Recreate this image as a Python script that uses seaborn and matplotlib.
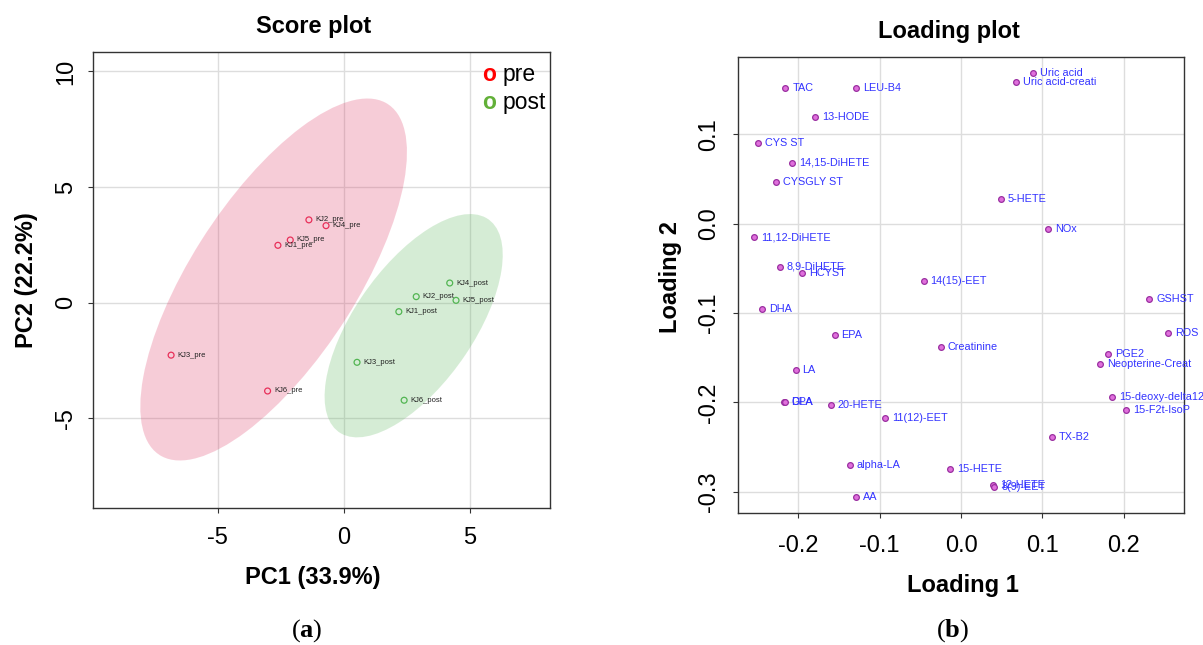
import numpy as np
import pandas as pd
import matplotlib
matplotlib.use("Agg")
import matplotlib.pyplot as plt
import seaborn as sns
from matplotlib.patches import Ellipse
from matplotlib.ticker import FormatStrFormatter

# ---------------- data ----------------
samples = ["KJ1_pre", "KJ2_pre", "KJ3_pre", "KJ4_pre", "KJ5_pre", "KJ6_pre",
           "KJ1_post", "KJ2_post", "KJ3_post", "KJ4_post", "KJ5_post", "KJ6_post"]
pc1 = [-2.61, -1.38, -6.85, -0.70, -2.12, -3.02,
       2.19, 2.88, 0.53, 4.21, 4.46, 2.40]
pc2 = [2.48, 3.58, -2.27, 3.33, 2.71, -3.82,
       -0.39, 0.26, -2.58, 0.85, 0.10, -4.22]
group = ["pre", "pre", "pre", "pre", "pre", "pre",
         "post", "post", "post", "post", "post", "post"]

load_names = ["TAC", "LEU-B4", "Uric acid", "Uric acid-creati", "13-HODE", "CYS ST",
              "14,15-DiHETE", "CYSGLY ST", "5-HETE", "NOx", "11,12-DiHETE", "8,9-DiHETE",
              "HCYST", "14(15)-EET", "GSHST", "DHA", "ROS", "EPA", "Creatinine", "PGE2",
              "Neopterine-Creat", "LA", "15-deoxy-delta12", "DPA", "GLA", "20-HETE",
              "15-F2t-IsoP", "11(12)-EET", "TX-B2", "alpha-LA", "15-HETE", "12-HETE",
              "8(9)-EET", "AA"]
load1 = [-0.216, -0.129, 0.0886, 0.068, -0.179, -0.249,
         -0.208, -0.2276, 0.0492, 0.1074, -0.254, -0.2226,
         -0.195, -0.0459, 0.2316, -0.2444, 0.2542, -0.1554, -0.0246, 0.1808,
         0.171, -0.2034, 0.1853, -0.218, -0.217, -0.160,
         0.2026, -0.0931, 0.1119, -0.1369, -0.0139, 0.039,
         0.041, -0.129]
load2 = [0.1523, 0.1516, 0.1688, 0.1583, 0.1198, 0.0904,
         0.0683, 0.047, 0.028, -0.0059, -0.0153, -0.0481,
         -0.0549, -0.0645, -0.0843, -0.0959, -0.1224, -0.1243, -0.1377, -0.1463,
         -0.1568, -0.1635, -0.194, -0.200, -0.200, -0.2027,
         -0.2086, -0.2176, -0.2392, -0.2702, -0.2743, -0.2926,
         -0.2948, -0.3053]

score_df = pd.DataFrame({"sample": samples, "PC1": pc1, "PC2": pc2, "group": group})
load_df = pd.DataFrame({"name": load_names, "L1": load1, "L2": load2})

# ---------------- style ----------------
sns.set_theme(style="white")
plt.rcParams["font.family"] = ["Liberation Sans", "DejaVu Sans"]
plt.rcParams["axes.unicode_minus"] = False
plt.rcParams["text.color"] = "black"
plt.rcParams["axes.labelcolor"] = "black"
plt.rcParams["mathtext.fontset"] = "custom"
plt.rcParams["mathtext.bf"] = "Liberation Serif:bold"
plt.rcParams["mathtext.rm"] = "Liberation Serif"

W, H = 1203, 645
fig = plt.figure(figsize=(W / 100, H / 100), dpi=100)


def px_axes(l, t, r, b):
    return fig.add_axes([l / W, 1 - b / H, (r - l) / W, (b - t) / H])


ax1 = px_axes(93, 52, 550, 508)
ax2 = px_axes(738.3, 56.7, 1184, 513.3)

spine_col = "#333333"
grid_col = "#DDDDDD"
TICK_FS = 17
LAB_FS = 17


def style_axes(ax, xpad, ypad):
    for s in ax.spines.values():
        s.set_visible(True)
        s.set_color(spine_col)
        s.set_linewidth(1.0)
    ax.grid(True, color=grid_col, linewidth=1.0, zorder=0)
    ax.set_axisbelow(True)
    ax.tick_params(axis="both", which="both", bottom=True, left=True, top=False, right=False,
                   direction="out", length=3.6, width=0.8, colors=spine_col,
                   labelcolor="black", labelsize=TICK_FS)
    ax.tick_params(axis="x", pad=xpad)
    ax.tick_params(axis="y", pad=ypad, labelrotation=90)
    for lab in ax.get_yticklabels():
        lab.set_va("center")


def conf_ellipse(ax, x, y, color, alpha):
    x = np.asarray(x)
    y = np.asarray(y)
    cov = np.cov(x, y)
    vals, vecs = np.linalg.eigh(cov)
    order = vals.argsort()[::-1]
    vals, vecs = vals[order], vecs[:, order]
    angle = np.degrees(np.arctan2(vecs[1, 0], vecs[0, 0]))
    w, h = 2 * np.sqrt(5.991 * vals)
    e = Ellipse((x.mean(), y.mean()), w, h, angle=angle, facecolor=color,
                alpha=alpha, edgecolor="none", zorder=1)
    ax.add_patch(e)


# ---------------- score plot ----------------
ell_cols = {"pre": "#DF3763", "post": "#5BB75B"}
pt_cols = {"pre": "#E8305A", "post": "#52B552"}
for g in ["pre", "post"]:
    sub = score_df[score_df.group == g]
    conf_ellipse(ax1, sub.PC1, sub.PC2, ell_cols[g], 0.25)

sns.scatterplot(data=score_df, x="PC1", y="PC2", hue="group", palette=pt_cols,
                s=18, linewidth=0.9, legend=False, ax=ax1, zorder=3)
coll = ax1.collections[-1]
fc = coll.get_facecolors()
coll.set_edgecolors(fc)
coll.set_facecolors("none")

for _, r in score_df.iterrows():
    ax1.annotate(r["sample"], (r.PC1, r.PC2), xytext=(4.6, 0), textcoords="offset points",
                 va="center", ha="left", fontsize=5.5, color="#222222", zorder=4)

ax1.set_xlim(-9.95, 8.19)
ax1.set_ylim(-8.88, 10.84)
ax1.set_xticks([-5, 0, 5])
ax1.set_yticks([-5, 0, 5, 10])
ax1.xaxis.set_major_formatter(FormatStrFormatter("%d"))
ax1.yaxis.set_major_formatter(FormatStrFormatter("%d"))
style_axes(ax1, xpad=10, ypad=8)

ax1.set_xlabel("PC1 (33.9%)", fontsize=LAB_FS, fontweight="bold", color="black")
ax1.xaxis.label.set_va("baseline")
ax1.xaxis.set_label_coords((313 - 93) / 457, (508 - 584.4) / 456)
ax1.set_ylabel("PC2 (22.2%)", fontsize=LAB_FS, fontweight="bold", color="black")
ax1.yaxis.label.set_va("center")
ax1.yaxis.set_label_coords((26 - 93) / 457, 0.5)

fig.text(314 / W, 1 - 33 / H, "Score plot", fontsize=LAB_FS, fontweight="bold",
         ha="center", va="baseline", color="black")

# legend
fig.text(482 / W, 1 - 81 / H, "o", color="#FF0000", fontsize=16.5, fontweight="bold",
         ha="left", va="baseline")
fig.text(503 / W, 1 - 81 / H, "pre", color="black", fontsize=16.5, ha="left", va="baseline")
fig.text(482 / W, 1 - 109 / H, "o", color="#62B038", fontsize=16.5, fontweight="bold",
         ha="left", va="baseline")
fig.text(503 / W, 1 - 109 / H, "post", color="black", fontsize=16.5, ha="left", va="baseline")

# ---------------- loading plot ----------------
sns.scatterplot(data=load_df, x="L1", y="L2", color="#E070DC", edgecolor="#9A2FA0",
                s=17, linewidth=0.9, legend=False, ax=ax2, zorder=3)
for _, r in load_df.iterrows():
    ax2.annotate(r["name"], (r.L1, r.L2), xytext=(5.0, 0), textcoords="offset points",
                 va="center", ha="left", fontsize=7.8, color="#3333FF", zorder=4,
                 annotation_clip=False)

ax2.set_xlim(-0.2738, 0.2741)
ax2.set_ylim(-0.3241, 0.1869)
ax2.set_xticks([-0.2, -0.1, 0.0, 0.1, 0.2])
ax2.set_yticks([-0.3, -0.2, -0.1, 0.0, 0.1])
ax2.xaxis.set_major_formatter(FormatStrFormatter("%.1f"))
ax2.yaxis.set_major_formatter(FormatStrFormatter("%.1f"))
style_axes(ax2, xpad=12, ypad=9.5)

ax2.set_xlabel("Loading 1", fontsize=LAB_FS, fontweight="bold", color="black")
ax2.xaxis.label.set_va("baseline")
ax2.xaxis.set_label_coords((963 - 738.3) / 445.7, (513.3 - 591.8) / 456.6)
ax2.set_ylabel("Loading 2", fontsize=LAB_FS, fontweight="bold", color="black")
ax2.yaxis.label.set_va("center")
ax2.yaxis.set_label_coords((670 - 738.3) / 445.7, (513.3 - 277) / 456.6)

fig.text(949 / W, 1 - 38.3 / H, "Loading plot", fontsize=LAB_FS, fontweight="bold",
         ha="center", va="baseline", color="black")

# panel labels
fig.text(307 / W, 1 - 631 / H, r"($\mathbf{a}$)", fontsize=19, family="Liberation Serif",
         ha="center", va="center", color="black")
fig.text(953 / W, 1 - 631 / H, r"($\mathbf{b}$)", fontsize=19, family="Liberation Serif",
         ha="center", va="center", color="black")

fig.savefig("out.png", dpi=100, facecolor="white")
